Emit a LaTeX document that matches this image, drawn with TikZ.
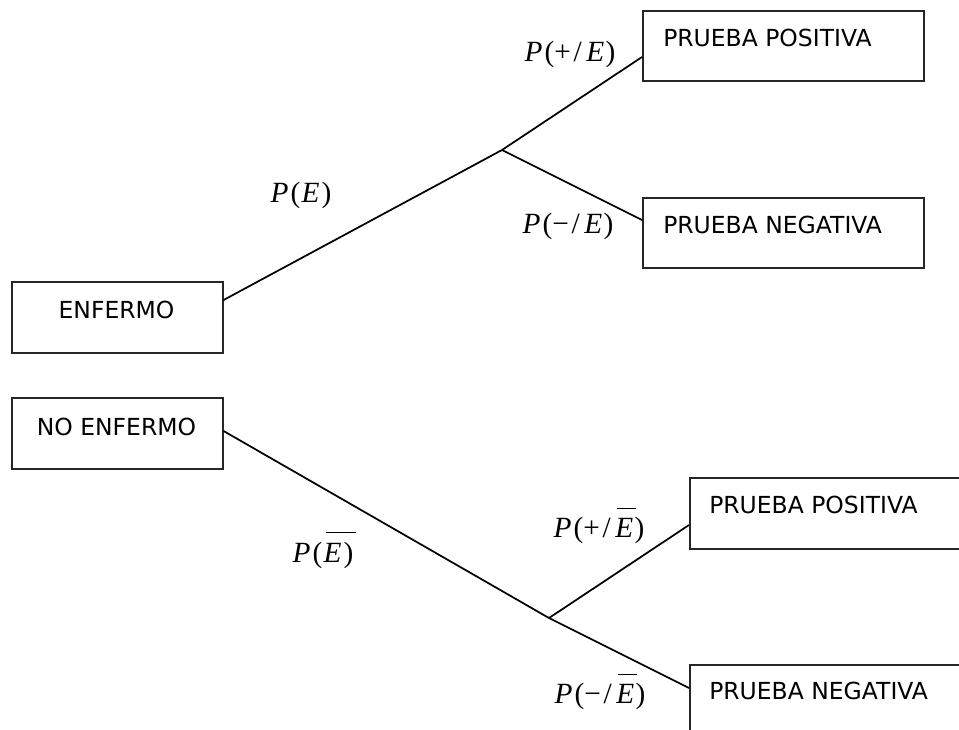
\documentclass[tikz,border=0pt]{standalone}
\usepackage{fontspec}
\newfontfamily\boxfont{DejaVu Sans}
\newfontfamily\lblfont{Liberation Serif}
% overline drawn as a rule: #1 width, #2 raise, #3 content
\newcommand{\obar}[3]{\rlap{\kern1.5pt\rule[#2]{#1}{0.85pt}}#3}
\newcommand{\lP}{\textit{P}\kern1.5pt}
\begin{document}
\begin{tikzpicture}[x=0.75pt,y=-0.75pt,
  box/.style={draw=black!85,line width=1.2pt,rectangle,inner sep=0pt,anchor=north west},
  boxtxt/.style={font=\boxfont\fontsize{17.6}{20}\selectfont,inner sep=0pt,anchor=base west},
  lbl/.style={font=\lblfont\fontsize{22}{24}\selectfont,inner sep=0pt,anchor=base},
  edge/.style={draw=black,line width=1.3pt}]
\useasboundingbox (0,0) rectangle (959,729);
\clip (0,0) rectangle (959,729);
% boxes
\node[box,minimum width=211*0.75pt,minimum height=71*0.75pt] (enf) at (11,281) {};
\node[box,minimum width=211*0.75pt,minimum height=71*0.75pt] (noenf) at (11,397) {};
\node[box,minimum width=281*0.75pt,minimum height=70*0.75pt] (pp1) at (642,10) {};
\node[box,minimum width=281*0.75pt,minimum height=70*0.75pt] (pn1) at (642,197) {};
\node[box,minimum width=300*0.75pt,minimum height=71*0.75pt] (pp2) at (689,477) {};
\node[box,minimum width=300*0.75pt,minimum height=100*0.75pt] (pn2) at (689,664) {};
% box texts
\node[boxtxt,anchor=base] (tenf) at (116.5,318) {ENFERMO};
\node[boxtxt,anchor=base] (tnoenf) at (116.5,435) {NO ENFERMO};
\node[boxtxt] (tpp1) at (663,46) {PRUEBA POSITIVA};
\node[boxtxt] (tpn1) at (663,233) {PRUEBA NEGATIVA};
\node[boxtxt] (tpp2) at (709,513) {PRUEBA POSITIVA};
\node[boxtxt] (tpn2) at (709,699) {PRUEBA NEGATIVA};
% branch points
\coordinate (b1) at (502,150);
\coordinate (b2) at (549,618);
% connectors
\draw[edge] ([yshift=-19*0.75pt]enf.north east) -- (b1);
\draw[edge] (b1) -- ([yshift=-47*0.75pt]pp1.north west);
\draw[edge] (b1) -- ([yshift=-23*0.75pt]pn1.north west);
\draw[edge] ([yshift=-34*0.75pt]noenf.north east) -- (b2);
\draw[edge] (b2) -- ([yshift=-48*0.75pt]pp2.north west);
\draw[edge] (b2) -- ([yshift=-24*0.75pt]pn2.north west);
% labels
\node[lbl] (lE) at (301,202) {\lP(\kern1pt\textit{E}\kern1.5pt)};
\node[lbl] (lpE) at (570,61) {\lP(+\kern2pt/\kern3.5pt\textit{E}\kern1pt)};
\node[lbl] (lmE) at (568,233) {\lP(−\kern2pt/\kern3.5pt\textit{E}\kern1pt)};
\node[lbl] (lnE) at (323,562) {\lP(\kern1pt\obar{23pt}{21.5pt}{\textit{E}\kern1.5pt)}};
\node[lbl] (lpnE) at (599,537) {\lP(+\kern2pt/\kern3.5pt\obar{14pt}{21pt}{\textit{E}}\kern1pt)};
\node[lbl] (lmnE) at (600,703) {\lP(−\kern2pt/\kern3.5pt\obar{14pt}{21pt}{\textit{E}}\kern1pt)};
\end{tikzpicture}
\end{document}
